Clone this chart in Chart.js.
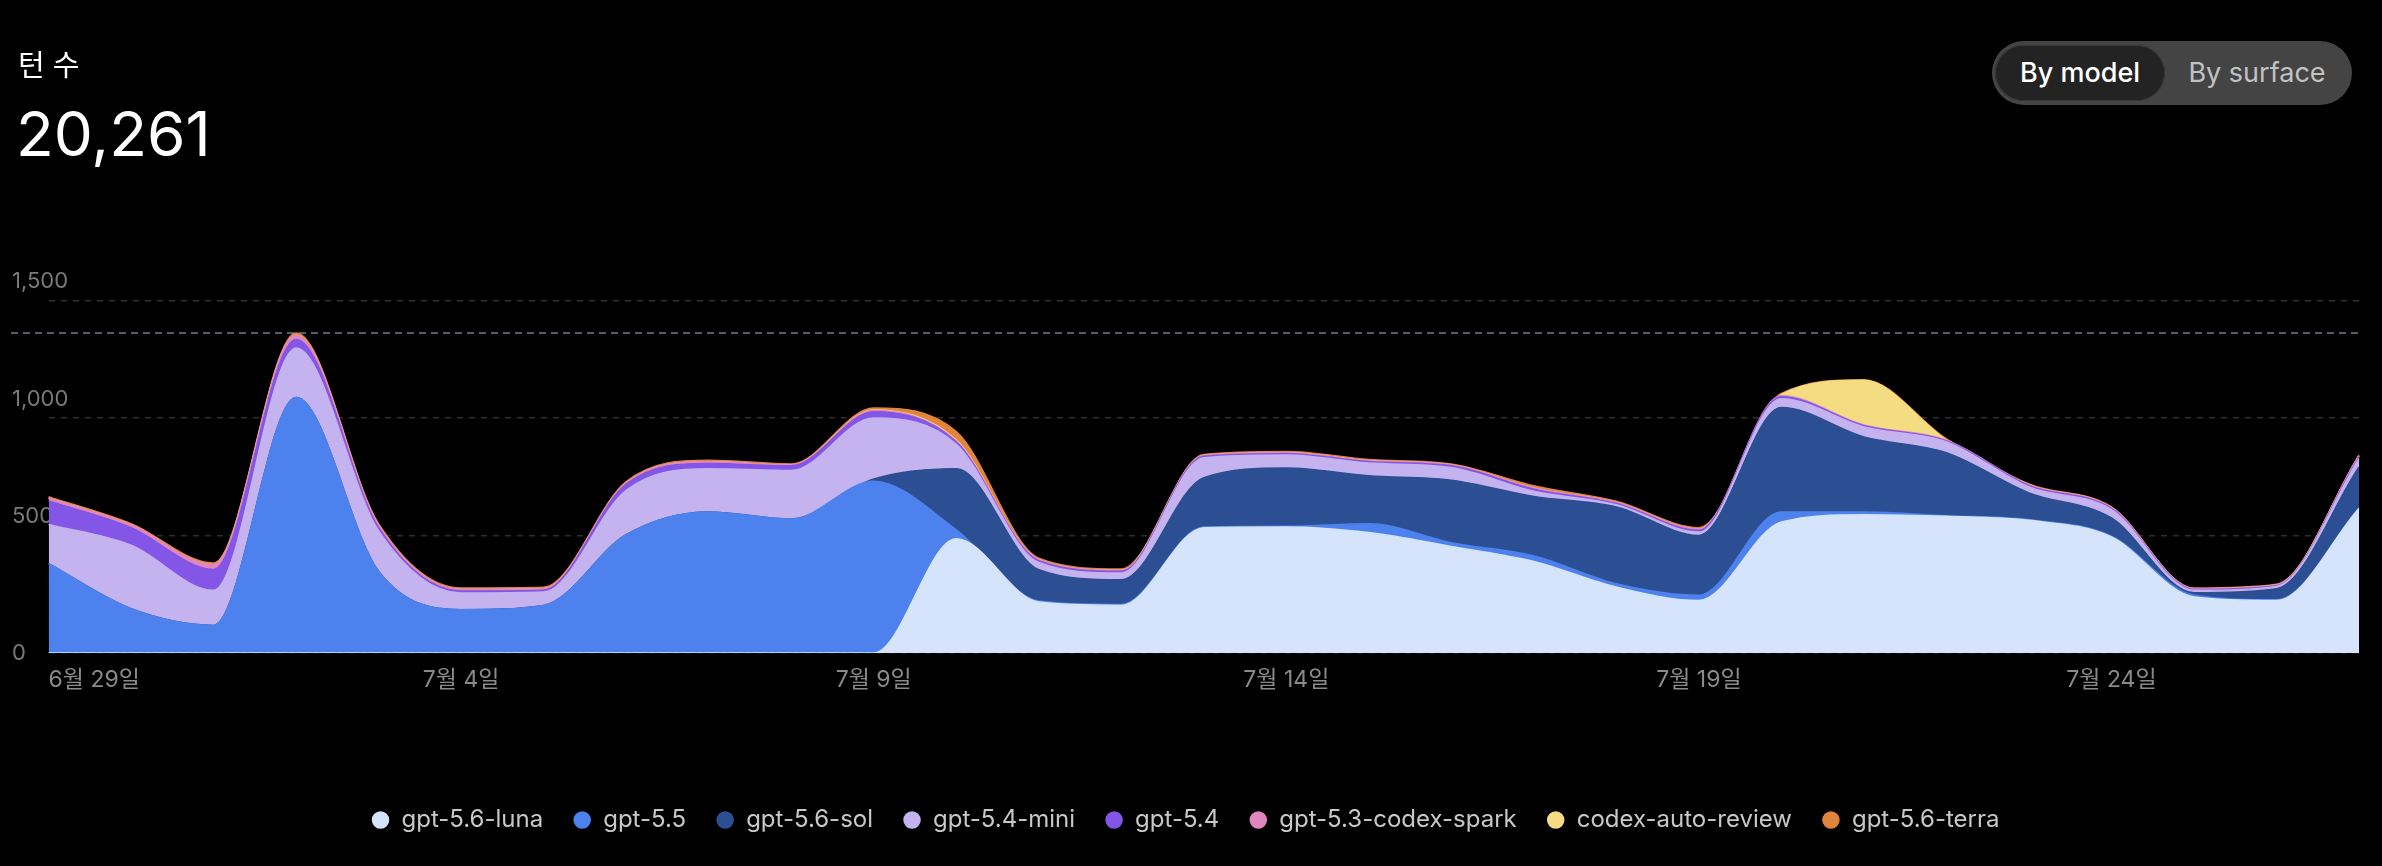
<!DOCTYPE html>
<html lang="ko">
<head>
<meta charset="utf-8">
<title>턴 수</title>
<script src="https://cdn.jsdelivr.net/npm/chart.js@4.4.1/dist/chart.umd.min.js"></script>
<style>
    html, body {
        margin: 0;
        padding: 0;
        background: #000;
        width: 2382px;
        height: 866px;
        overflow: hidden;
        font-family: Inter, 'Noto Sans CJK KR', sans-serif;
    }
    .title {
        position: absolute;
        left: 18px;
        top: 51px;
        font-size: 29px;
        line-height: 1;
        color: #fff;
        z-index: 2;
    }
    .total {
        position: absolute;
        left: 16px;
        top: 103px;
        font-size: 62px;
        line-height: 1;
        color: #fff;
        z-index: 2;
    }
    .toggle {
        position: absolute;
        left: 1992px;
        top: 41px;
        width: 360px;
        height: 64px;
        box-sizing: border-box;
        padding: 4px 3px;
        border-radius: 32px;
        background: #444;
        display: flex;
        align-items: center;
        font-size: 27px;
        z-index: 2;
    }
    .toggle span {
        height: 56px;
        line-height: 56px;
        text-align: center;
        border-radius: 28px;
    }
    .toggle .on {
        width: 170px;
        background: #232323;
        color: #fff;
        font-weight: 500;
        box-shadow: inset 0 0 0 1px #3a3a3a;
    }
    .toggle .off {
        flex: 1;
        color: #c2c2c2;
    }
    .chart-wrap {
        position: absolute;
        left: 0;
        top: 0;
        width: 2382px;
        height: 866px;
    }
</style>
</head>
<body>
<div class="title">턴 수</div>
<div class="total">20,261</div>
<div class="toggle"><span class="on">By model</span><span class="off">By surface</span></div>
<div class="chart-wrap"><canvas id="turnsChart"></canvas></div>

<script>
    const dates = [
        '6월 29일', '6월 30일', '7월 1일', '7월 2일', '7월 3일', '7월 4일', '7월 5일',
        '7월 6일', '7월 7일', '7월 8일', '7월 9일', '7월 10일', '7월 11일', '7월 12일',
        '7월 13일', '7월 14일', '7월 15일', '7월 16일', '7월 17일', '7월 18일', '7월 19일',
        '7월 20일', '7월 21일', '7월 22일', '7월 23일', '7월 24일', '7월 25일', '7월 26일', '7월 27일'
    ];

    // turns per day, one array per model (stacked bottom to top)
    const luna   = [0, 0, 0, 0, 0, 0, 0, 0, 0, 0, 0, 487, 217, 203, 534, 537, 513, 454, 390, 281, 224, 558, 589, 582, 565, 494, 239, 224, 615];
    const gpt55  = [381, 189, 118, 1088, 348, 185, 203, 504, 601, 571, 731, 38, 5, 4, 3, 3, 38, 16, 23, 14, 22, 43, 12, 3, 3, 4, 7, 3, 3];
    const sol    = [0, 0, 0, 0, 0, 0, 0, 0, 0, 0, 10, 260, 133, 105, 210, 248, 204, 266, 254, 327, 255, 444, 319, 268, 114, 77, 11, 47, 174];
    const mini   = [166, 270, 149, 211, 172, 71, 57, 189, 184, 206, 260, 104, 31, 29, 84, 55, 54, 54, 22, 10, 14, 38, 43, 46, 25, 36, 10, 10, 36];
    const gpt54  = [101, 75, 89, 36, 14, 8, 8, 26, 22, 20, 26, 10, 7, 7, 7, 6, 6, 7, 9, 5, 8, 8, 5, 4, 6, 5, 4, 3, 7];
    const spark  = [11, 11, 20, 18, 10, 7, 6, 5, 7, 4, 6, 4, 5, 4, 3, 4, 4, 4, 5, 4, 5, 4, 3, 3, 3, 3, 3, 3, 4];
    const review = [0, 0, 0, 0, 0, 0, 0, 0, 0, 0, 2, 4, 0, 0, 0, 0, 0, 0, 0, 0, 0, 6, 190, 1, 0, 0, 0, 0, 0];
    const terra  = [7, 6, 7, 9, 6, 6, 6, 6, 7, 4, 8, 36, 6, 6, 4, 5, 5, 4, 9, 5, 6, 4, 3, 5, 4, 3, 3, 3, 4];

    const modelNames  = ['gpt-5.6-luna', 'gpt-5.5', 'gpt-5.6-sol', 'gpt-5.4-mini', 'gpt-5.4', 'gpt-5.3-codex-spark', 'codex-auto-review', 'gpt-5.6-terra'];
    const modelColors = ['#d5e4fa', '#4d82ee', '#2c4f93', '#c5b3f0', '#8356e8', '#e085bf', '#f4dc82', '#e0843e'];
    const yTicks = [0, 500, 1000, 1500];

    const series = [luna, gpt55, sol, mini, gpt54, spark, review, terra];
    const dailyTotals = dates.map((_, i) => series.reduce((sum, s) => sum + s[i], 0));
    const peakTotal = Math.max(...dailyTotals);

    // dashed marker line at the highest daily total
    const peakLinePlugin = {
        id: 'peakLine',
        afterDatasetsDraw(chart) {
            const ctx = chart.ctx;
            const y = chart.scales.y.getPixelForValue(peakTotal);
            ctx.save();
            ctx.setLineDash([7, 5]);
            ctx.strokeStyle = 'rgba(150, 150, 172, 0.8)';
            ctx.lineWidth = 1.5;
            ctx.beginPath();
            ctx.moveTo(11, y);
            ctx.lineTo(chart.chartArea.right, y);
            ctx.stroke();
            ctx.restore();
        }
    };

    let turnsChart;

    function initializeTurnsChart() {
        const ctx = document.getElementById('turnsChart').getContext('2d');

        Chart.defaults.font.family = "Inter, 'Noto Sans CJK KR', sans-serif";

        const datasets = series.map((values, i) => ({
            label: modelNames[i],
            data: values,
            backgroundColor: modelColors[i],
            borderColor: modelColors[i],
            borderWidth: 1.5,
            fill: i === 0 ? 'origin' : '-1',
            pointRadius: 0,
            pointHoverRadius: 0,
            cubicInterpolationMode: 'monotone'
        }));

        turnsChart = new Chart(ctx, {
            type: 'line',
            data: {
                labels: dates,
                datasets: datasets
            },
            options: {
                responsive: true,
                maintainAspectRatio: false,
                animation: false,
                layout: {
                    padding: { top: 300.7, left: 12, right: 23, bottom: 24 }
                },
                plugins: {
                    legend: {
                        position: 'bottom',
                        labels: {
                            usePointStyle: true,
                            pointStyle: 'circle',
                            boxWidth: 18,
                            boxHeight: 11.3,
                            padding: 30,
                            color: '#c8c8c8',
                            font: { size: 24 }
                        }
                    },
                    tooltip: { enabled: false }
                },
                scales: {
                    x: {
                        grid: { display: false, drawTicks: false },
                        border: { display: false },
                        ticks: {
                            autoSkip: false,
                            maxRotation: 0,
                            align: 'inner',
                            padding: 13,
                            color: '#8a8a8a',
                            font: { size: 23 },
                            callback: function(value, index) {
                                return index % 5 === 0 ? dates[index] : '';
                            }
                        },
                        afterFit: function(scale) {
                            scale.height = 124.9;
                        }
                    },
                    y: {
                        stacked: true,
                        min: 0,
                        max: 1500,
                        afterBuildTicks: function(scale) {
                            scale.ticks = yTicks.map(v => ({ value: v }));
                        },
                        grid: { color: '#2e2e2e', lineWidth: 1.5, drawTicks: false },
                        border: { display: false, dash: [6, 6] },
                        ticks: {
                            // mirrored so the labels are not clipped to the narrow axis box
                            mirror: true,
                            crossAlign: 'near',
                            padding: -36.6,
                            color: '#7a7a7a',
                            // labels sit above their grid line: an empty second line lifts them
                            font: { size: 22, lineHeight: 1.72 },
                            callback: function(value) {
                                return value === 0 ? '0' : [value.toLocaleString('en-US'), ''];
                            }
                        },
                        afterFit: function(scale) {
                            scale.width = 36.6;
                        }
                    }
                }
            },
            plugins: [peakLinePlugin]
        });
    }

    document.addEventListener('DOMContentLoaded', initializeTurnsChart);
</script>
</body>
</html>
